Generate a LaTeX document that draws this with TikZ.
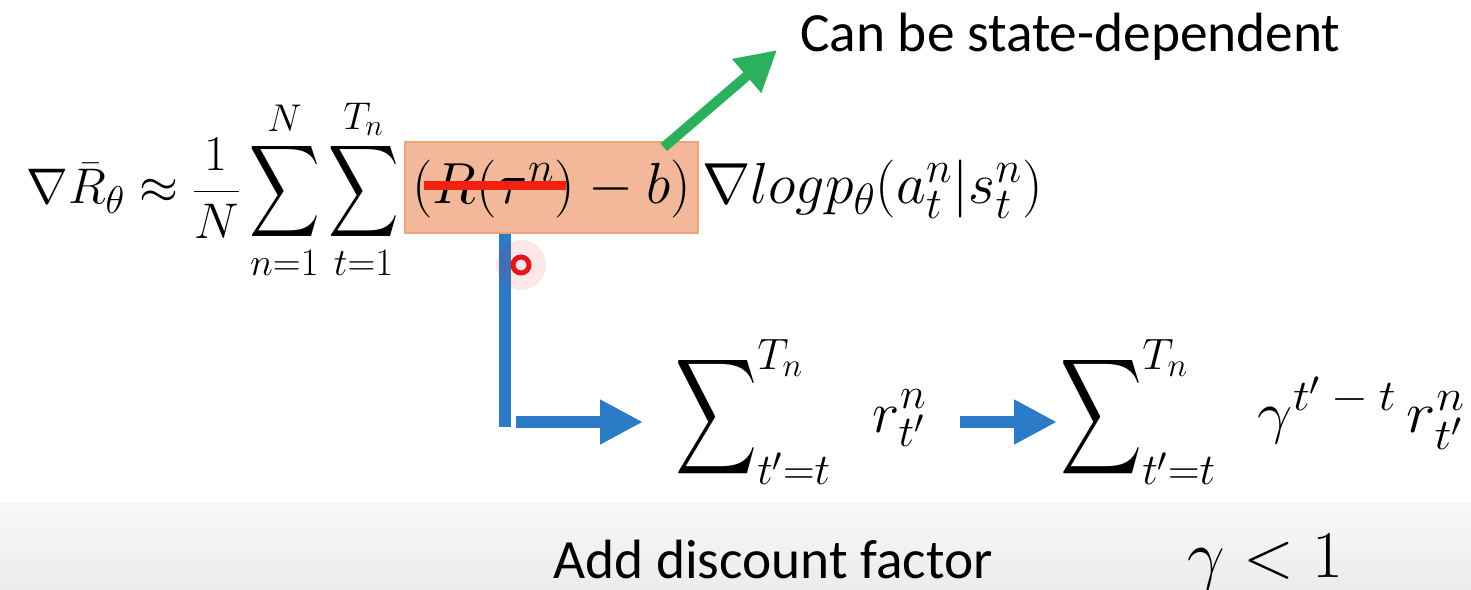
\RequirePackage{fix-cm}
\documentclass[tikz,border=0pt]{standalone}
\usepackage{amsmath}
\usepackage{graphicx}
\usepackage{fontspec}
\newfontfamily\calibfont{Carlito}
\usepackage{tikz}
\usetikzlibrary{calc,arrows.meta,positioning}
\definecolor{boxorange}{HTML}{F3B799}
\definecolor{boxedge}{HTML}{E9A57E}
\definecolor{strikered}{HTML}{F2200E}
\definecolor{notegreen}{HTML}{2BB05E}
\definecolor{flowblue}{HTML}{2B7BC6}
\definecolor{cursorred}{HTML}{E8141C}
\DeclareMathSizes{28.5}{28.5}{22}{17}
\DeclareMathSizes{33}{33}{25}{19}
\DeclareMathSizes{38}{38}{28}{20}
\newcommand{\tallsum}[2]{\mathop{\vcenter{\hbox{\scalebox{#1}[#2]{$\displaystyle\sum$}}}}}
\tikzset{
  eqn/.style={font=\fontsize{33}{40}\selectfont,inner sep=0pt},
  notetxt/.style={font=\calibfont\fontsize{31.5}{36}\selectfont,inner sep=0pt},
  greenar/.style={-{Triangle[length=8mm,width=8.4mm]},line width=2mm,notegreen},
  bluear/.style={-{Triangle[length=8.6mm,width=8.4mm]},line width=2.4mm,flowblue},
  strikeline/.style={line width=1.7mm,strikered}
}
\begin{document}
\begin{tikzpicture}[x=0.2mm,y=-0.2mm]
\useasboundingbox (0,0) rectangle (1471,590);
% grey band at the bottom
\fill[top color=gray!6,bottom color=gray!15] (0,503) rectangle (1471,590);
% the gradient formula
\node[eqn,fill=boxorange,draw=boxedge,line width=0.3mm,minimum width=58.6mm,
  text height=12.4mm,text depth=5.8mm,anchor=base] (box) at (551.5,204) {$(R(\tau^n)-b)$};
\node[eqn,font=\fontsize{28.5}{34}\selectfont,anchor=base east] (lhs) at ([xshift=-1mm]box.base west)
  {$\displaystyle\nabla\bar{R}_\theta\approx\frac{1}{N}\tallsum{1.12}{1.47}\limits_{n=1}^{N}\tallsum{1.12}{1.47}\limits_{t=1}^{T_n}$};
\node[eqn,anchor=base west] (rhs) at ([xshift=0.6mm]box.base east) {$\nabla logp_\theta(a_t^n|s_t^n)$};
\draw[strikeline] ($(box.west)+(20,-2)$) -- ($(box.west)+(162,-2)$);
% note on b
\node[notetxt,anchor=base west] (note) at (800,52) {Can be state-dependent};
\draw[greenar] ($(box.north east)+(-35,6)$) -- ($(note.base west)+(-23,-2)$);
% reward to go
\node[eqn,anchor=base west] (sumr) at (675,432) {$\displaystyle\tallsum{1.3}{1.85}\nolimits_{t'=t}^{T_n}\;\;r_{t'}^{n}$};
\node[eqn,anchor=base west] (sumg) at (1060,432)
  {$\displaystyle\tallsum{1.3}{1.85}\nolimits_{t'=t}^{T_n}\;\;\scalebox{1.08}[1]{$\gamma^{t'\:-\:t}\,r_{t'}^{n}$}$};
\coordinate (bend) at (505,422);
\draw[flowblue,line width=2.4mm] (box.south -| bend) -- ($(bend)+(0,5)$);
\draw[bluear] ($(bend)+(11,0)$) -- ([xshift=-6.4mm]sumr.west |- bend);
\draw[bluear] ([xshift=6.6mm]sumr.east |- bend) -- ([xshift=-0.6mm]sumg.west |- bend);
% cursor mark
\fill[cursorred,opacity=0.1] (521,265) circle (5mm);
\draw[cursorred,line width=1mm] (521,265) circle (1.6mm);
% footer
\node[notetxt,anchor=base west,text depth=0pt] (disc) at (553,578) {Add discount factor};
\node[eqn,font=\fontsize{38}{44}\selectfont,anchor=base west,text depth=0pt] (gam) at (1187,577) {$\gamma<1$};
\end{tikzpicture}
\end{document}
